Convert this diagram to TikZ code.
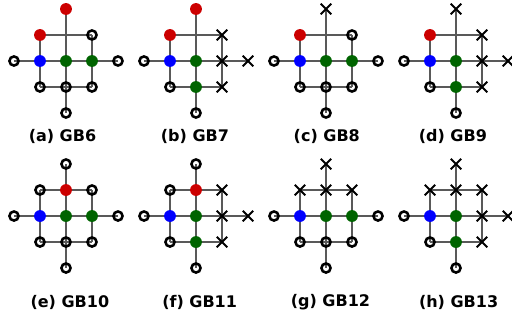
\documentclass[tikz,border=0pt]{standalone}
\usepackage{fontspec}
\setsansfont{DejaVu Sans}
\usetikzlibrary{shapes.misc,backgrounds}

\definecolor{gbred}{RGB}{204,0,0}
\definecolor{gbblue}{RGB}{0,0,255}
\definecolor{gbgreen}{RGB}{0,100,0}

\tikzset{
  bond/.style={draw=black!65, line width=3pt},
  hole/.style={circle, draw=black, line width=2.8pt, inner sep=0pt, minimum size=10pt},
  fixd/.style={cross out, draw=black, line width=2pt, inner sep=0pt, minimum size=9.5pt},
  redpt/.style={circle, fill=gbred, inner sep=0pt, minimum size=13pt},
  bluept/.style={circle, fill=gbblue, inner sep=0pt, minimum size=13pt},
  greenpt/.style={circle, fill=gbgreen, inner sep=0pt, minimum size=13pt},
  jct/.style={coordinate},
  gbcap/.style={font=\sffamily\bfseries\fontsize{17.5}{20}\selectfont}
}

% sites in fixed order: top, row 1 (3), row 2 (5), row 3 (3), bottom
\newcommand{\gbpanel}[5]{%
  \begin{scope}[shift={#2}]
    \foreach \kind [count=\k from 0] in {#5} {
      \pgfmathtruncatemacro\cc{{2,1,2,3,0,1,2,3,4,1,2,3,2}[\k]}
      \pgfmathtruncatemacro\rr{{0,1,1,1,2,2,2,2,2,3,3,3,4}[\k]}
      \node[\kind] (#1-\cc-\rr) at (\cc,-\rr) {};
    }
    \begin{scope}[on background layer]
      \draw[bond] (#1-1-1.center) -- (#1-3-1.center)
                  (#1-0-2.center) -- (#1-4-2.center)
                  (#1-1-3.center) -- (#1-3-3.center)
                  (#1-1-1.center) -- (#1-1-3.center)
                  (#1-2-0.center) -- (#1-2-4.center)
                  (#1-3-1.center) -- (#1-3-3.center);
    \end{scope}
    \node[gbcap] (#1-cap) at #3 {#4};
  \end{scope}
}

\begin{document}
\begin{tikzpicture}
  \useasboundingbox (0,0) rectangle (19.692,-12.308);

  % top row
  \gbpanel{a}{(0.538,-0.346)}{(1.865,-4.92)}{(a) GB6}
    {redpt, redpt,jct,hole, hole,bluept,greenpt,greenpt,hole, hole,hole,hole, hole}
  \gbpanel{b}{(5.538,-0.346)}{(1.96,-4.92)}{(b) GB7}
    {redpt, redpt,jct,fixd, hole,bluept,greenpt,fixd,fixd, hole,greenpt,fixd, hole}
  \gbpanel{c}{(10.538,-0.346)}{(2.03,-4.92)}{(c) GB8}
    {fixd, redpt,jct,hole, hole,bluept,greenpt,greenpt,hole, hole,hole,hole, hole}
  \gbpanel{d}{(15.538,-0.346)}{(1.88,-4.92)}{(d) GB9}
    {fixd, redpt,jct,fixd, hole,bluept,greenpt,fixd,fixd, hole,greenpt,fixd, hole}

  % bottom row
  \gbpanel{e}{(0.538,-6.308)}{(2.15,-5.31)}{(e) GB10}
    {hole, hole,redpt,hole, hole,bluept,greenpt,greenpt,hole, hole,hole,hole, hole}
  \gbpanel{f}{(5.538,-6.308)}{(2.14,-5.31)}{(f) GB11}
    {hole, hole,redpt,fixd, hole,bluept,greenpt,fixd,fixd, hole,greenpt,fixd, hole}
  \gbpanel{g}{(10.538,-6.308)}{(2.17,-5.31)}{(g) GB12}
    {fixd, fixd,fixd,fixd, hole,bluept,greenpt,greenpt,hole, hole,hole,hole, hole}
  \gbpanel{h}{(15.538,-6.308)}{(2.10,-5.31)}{(h) GB13}
    {fixd, fixd,fixd,fixd, hole,bluept,greenpt,fixd,fixd, hole,greenpt,fixd, hole}
\end{tikzpicture}
\end{document}
